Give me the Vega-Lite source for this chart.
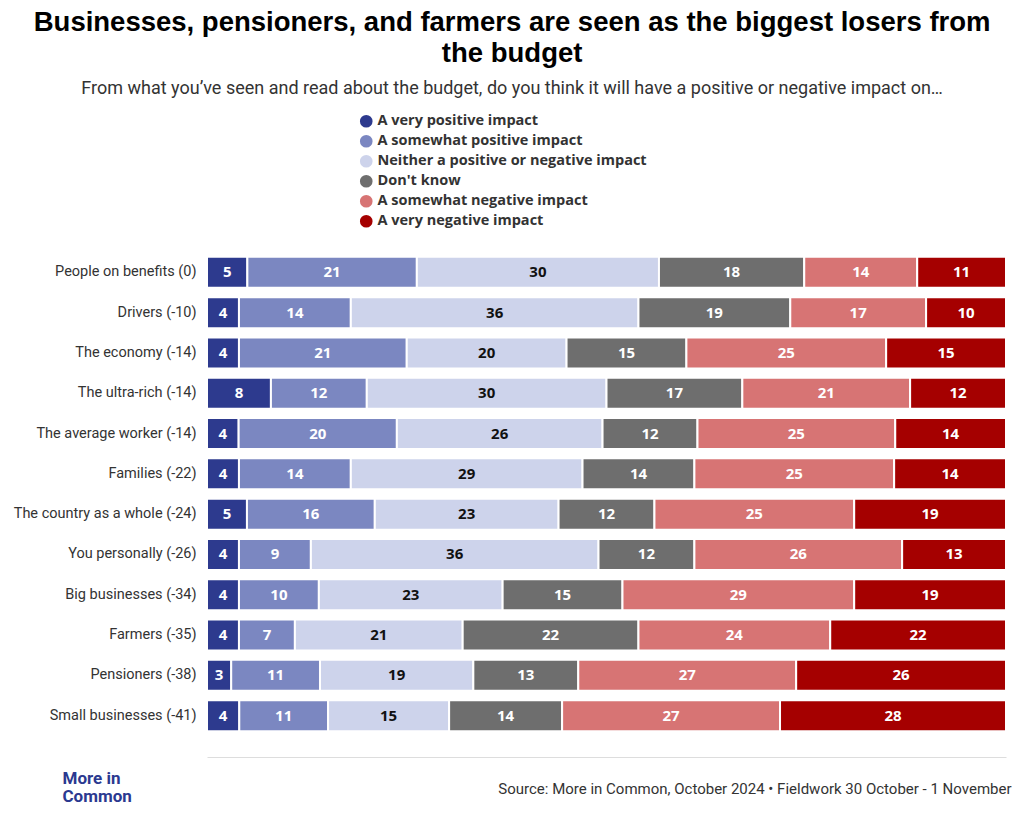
{
  "$schema": "https://vega.github.io/schema/vega-lite/v6.json",
  "autosize": {"type": "none"},
  "width": 799,
  "height": 484,
  "padding": {"left": 207, "top": 252, "right": 14, "bottom": 88},
  "background": "white",
  "title": {
    "text": ["Businesses, pensioners, and farmers are seen as the biggest losers from", "the budget"],
    "subtitle": "From what you’ve seen and read about the budget, do you think it will have a positive or negative impact on…",
    "anchor": "middle",
    "frame": "bounds",
    "font": "Liberation Sans",
    "fontSize": 27.5,
    "fontWeight": "bold",
    "lineHeight": 31,
    "color": "#000",
    "subtitleFont": "Roboto",
    "subtitleFontSize": 18,
    "subtitleColor": "#333",
    "subtitlePadding": 13,
    "offset": 16
  },
  "data": {
    "values": [
      {"c": "People on benefits (0)", "i": "A very positive impact", "o": 1, "v": 5},
      {"c": "People on benefits (0)", "i": "A somewhat positive impact", "o": 2, "v": 21},
      {"c": "People on benefits (0)", "i": "Neither a positive or negative impact", "o": 3, "v": 30},
      {"c": "People on benefits (0)", "i": "Don't know", "o": 4, "v": 18},
      {"c": "People on benefits (0)", "i": "A somewhat negative impact", "o": 5, "v": 14},
      {"c": "People on benefits (0)", "i": "A very negative impact", "o": 6, "v": 11},
      {"c": "Drivers (-10)", "i": "A very positive impact", "o": 1, "v": 4},
      {"c": "Drivers (-10)", "i": "A somewhat positive impact", "o": 2, "v": 14},
      {"c": "Drivers (-10)", "i": "Neither a positive or negative impact", "o": 3, "v": 36},
      {"c": "Drivers (-10)", "i": "Don't know", "o": 4, "v": 19},
      {"c": "Drivers (-10)", "i": "A somewhat negative impact", "o": 5, "v": 17},
      {"c": "Drivers (-10)", "i": "A very negative impact", "o": 6, "v": 10},
      {"c": "The economy (-14)", "i": "A very positive impact", "o": 1, "v": 4},
      {"c": "The economy (-14)", "i": "A somewhat positive impact", "o": 2, "v": 21},
      {"c": "The economy (-14)", "i": "Neither a positive or negative impact", "o": 3, "v": 20},
      {"c": "The economy (-14)", "i": "Don't know", "o": 4, "v": 15},
      {"c": "The economy (-14)", "i": "A somewhat negative impact", "o": 5, "v": 25},
      {"c": "The economy (-14)", "i": "A very negative impact", "o": 6, "v": 15},
      {"c": "The ultra-rich (-14)", "i": "A very positive impact", "o": 1, "v": 8},
      {"c": "The ultra-rich (-14)", "i": "A somewhat positive impact", "o": 2, "v": 12},
      {"c": "The ultra-rich (-14)", "i": "Neither a positive or negative impact", "o": 3, "v": 30},
      {"c": "The ultra-rich (-14)", "i": "Don't know", "o": 4, "v": 17},
      {"c": "The ultra-rich (-14)", "i": "A somewhat negative impact", "o": 5, "v": 21},
      {"c": "The ultra-rich (-14)", "i": "A very negative impact", "o": 6, "v": 12},
      {"c": "The average worker (-14)", "i": "A very positive impact", "o": 1, "v": 4},
      {"c": "The average worker (-14)", "i": "A somewhat positive impact", "o": 2, "v": 20},
      {"c": "The average worker (-14)", "i": "Neither a positive or negative impact", "o": 3, "v": 26},
      {"c": "The average worker (-14)", "i": "Don't know", "o": 4, "v": 12},
      {"c": "The average worker (-14)", "i": "A somewhat negative impact", "o": 5, "v": 25},
      {"c": "The average worker (-14)", "i": "A very negative impact", "o": 6, "v": 14},
      {"c": "Families (-22)", "i": "A very positive impact", "o": 1, "v": 4},
      {"c": "Families (-22)", "i": "A somewhat positive impact", "o": 2, "v": 14},
      {"c": "Families (-22)", "i": "Neither a positive or negative impact", "o": 3, "v": 29},
      {"c": "Families (-22)", "i": "Don't know", "o": 4, "v": 14},
      {"c": "Families (-22)", "i": "A somewhat negative impact", "o": 5, "v": 25},
      {"c": "Families (-22)", "i": "A very negative impact", "o": 6, "v": 14},
      {"c": "The country as a whole (-24)", "i": "A very positive impact", "o": 1, "v": 5},
      {"c": "The country as a whole (-24)", "i": "A somewhat positive impact", "o": 2, "v": 16},
      {"c": "The country as a whole (-24)", "i": "Neither a positive or negative impact", "o": 3, "v": 23},
      {"c": "The country as a whole (-24)", "i": "Don't know", "o": 4, "v": 12},
      {"c": "The country as a whole (-24)", "i": "A somewhat negative impact", "o": 5, "v": 25},
      {"c": "The country as a whole (-24)", "i": "A very negative impact", "o": 6, "v": 19},
      {"c": "You personally (-26)", "i": "A very positive impact", "o": 1, "v": 4},
      {"c": "You personally (-26)", "i": "A somewhat positive impact", "o": 2, "v": 9},
      {"c": "You personally (-26)", "i": "Neither a positive or negative impact", "o": 3, "v": 36},
      {"c": "You personally (-26)", "i": "Don't know", "o": 4, "v": 12},
      {"c": "You personally (-26)", "i": "A somewhat negative impact", "o": 5, "v": 26},
      {"c": "You personally (-26)", "i": "A very negative impact", "o": 6, "v": 13},
      {"c": "Big businesses (-34)", "i": "A very positive impact", "o": 1, "v": 4},
      {"c": "Big businesses (-34)", "i": "A somewhat positive impact", "o": 2, "v": 10},
      {"c": "Big businesses (-34)", "i": "Neither a positive or negative impact", "o": 3, "v": 23},
      {"c": "Big businesses (-34)", "i": "Don't know", "o": 4, "v": 15},
      {"c": "Big businesses (-34)", "i": "A somewhat negative impact", "o": 5, "v": 29},
      {"c": "Big businesses (-34)", "i": "A very negative impact", "o": 6, "v": 19},
      {"c": "Farmers (-35)", "i": "A very positive impact", "o": 1, "v": 4},
      {"c": "Farmers (-35)", "i": "A somewhat positive impact", "o": 2, "v": 7},
      {"c": "Farmers (-35)", "i": "Neither a positive or negative impact", "o": 3, "v": 21},
      {"c": "Farmers (-35)", "i": "Don't know", "o": 4, "v": 22},
      {"c": "Farmers (-35)", "i": "A somewhat negative impact", "o": 5, "v": 24},
      {"c": "Farmers (-35)", "i": "A very negative impact", "o": 6, "v": 22},
      {"c": "Pensioners (-38)", "i": "A very positive impact", "o": 1, "v": 3},
      {"c": "Pensioners (-38)", "i": "A somewhat positive impact", "o": 2, "v": 11},
      {"c": "Pensioners (-38)", "i": "Neither a positive or negative impact", "o": 3, "v": 19},
      {"c": "Pensioners (-38)", "i": "Don't know", "o": 4, "v": 13},
      {"c": "Pensioners (-38)", "i": "A somewhat negative impact", "o": 5, "v": 27},
      {"c": "Pensioners (-38)", "i": "A very negative impact", "o": 6, "v": 26},
      {"c": "Small businesses (-41)", "i": "A very positive impact", "o": 1, "v": 4},
      {"c": "Small businesses (-41)", "i": "A somewhat positive impact", "o": 2, "v": 11},
      {"c": "Small businesses (-41)", "i": "Neither a positive or negative impact", "o": 3, "v": 15},
      {"c": "Small businesses (-41)", "i": "Don't know", "o": 4, "v": 14},
      {"c": "Small businesses (-41)", "i": "A somewhat negative impact", "o": 5, "v": 27},
      {"c": "Small businesses (-41)", "i": "A very negative impact", "o": 6, "v": 28}
    ]
  },
  "encoding": {
    "y": {
      "field": "c",
      "type": "nominal",
      "sort": null,
      "scale": {"paddingInner": 0.23, "paddingOuter": 0.12},
      "axis": {
        "title": ["More in", "Common"],
        "titleAngle": 0,
        "titleAlign": "left",
        "titleBaseline": "top",
        "titleX": -145,
        "titleY": 518,
        "titleFont": "Roboto",
        "titleFontSize": 17,
        "titleFontWeight": "bold",
        "titleColor": "#2b3990",
        "titleLineHeight": 18,
        "labelFont": "Roboto",
        "labelFontSize": 14.5,
        "labelColor": "#333",
        "labelPadding": 11,
        "ticks": false,
        "domain": false,
        "labelLimit": 250
      }
    },
    "x": {
      "field": "v",
      "type": "quantitative",
      "stack": "normalize",
      "scale": {"domain": [0, 1], "nice": false},
      "axis": {
        "labels": false,
        "ticks": false,
        "grid": false,
        "domain": true,
        "domainColor": "#dddddd",
        "domainWidth": 1,
        "offset": 21,
        "title": "Source: More in Common, October 2024 • Fieldwork 30 October - 1 November",
        "titleFont": "Roboto",
        "titleFontSize": 15,
        "titleFontWeight": "normal",
        "titleColor": "#333",
        "titleAlign": "right",
        "titleAnchor": "end",
        "titleX": 804,
        "titleBaseline": "top",
        "titlePadding": 24
      }
    },
    "order": {"field": "o", "type": "quantitative"}
  },
  "layer": [
    {
      "mark": {"type": "bar", "stroke": "white", "strokeWidth": 2},
      "encoding": {
        "color": {
          "field": "i",
          "type": "nominal",
          "scale": {
            "domain": ["A very positive impact", "A somewhat positive impact", "Neither a positive or negative impact", "Don't know", "A somewhat negative impact", "A very negative impact"],
            "range": ["#2d3a8e", "#7b87c1", "#cdd3eb", "#6e6e6e", "#d77474", "#a50000"]
          },
          "legend": {
            "title": null,
            "orient": "none",
            "legendX": 152,
            "legendY": -138,
            "direction": "vertical",
            "symbolType": "circle",
            "symbolSize": 160,
            "symbolStrokeWidth": 0,
            "labelFont": "Open Sans",
            "labelFontSize": 14.5,
            "labelFontWeight": "bold",
            "labelColor": "#333",
            "labelOffset": 4,
            "rowPadding": 5,
            "labelLimit": 400
          }
        }
      }
    },
    {
      "mark": {"type": "text", "font": "Open Sans", "fontSize": 15, "fontWeight": "bold", "align": "center", "baseline": "middle"},
      "encoding": {
        "x": {"field": "v", "type": "quantitative", "stack": "normalize", "bandPosition": 0.5},
        "text": {"field": "v", "type": "quantitative"},
        "color": {
          "condition": {"test": "datum.i === 'Neither a positive or negative impact'", "value": "#111111"},
          "value": "#ffffff"
        }
      }
    }
  ],
  "config": {"view": {"stroke": null}}
}
